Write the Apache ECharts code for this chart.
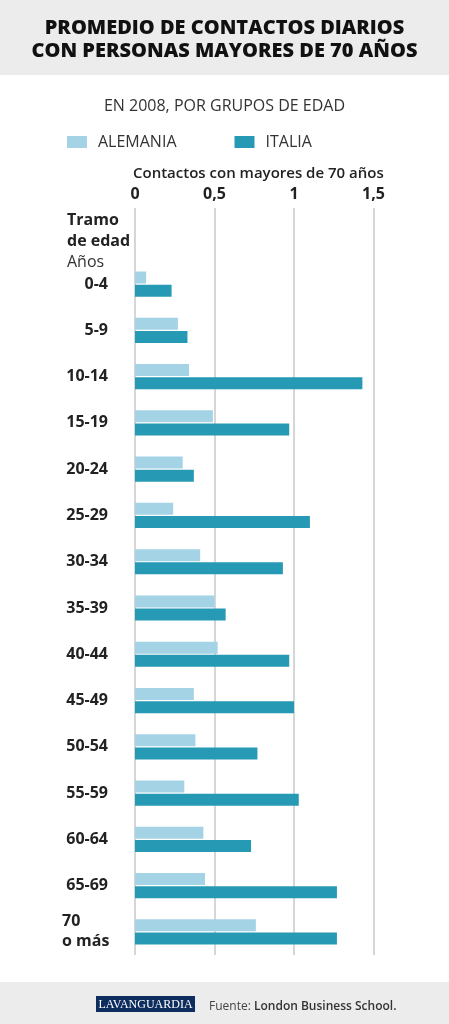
<!DOCTYPE html>
<html>
<head>
<meta charset="utf-8">
<script src="https://cdn.jsdelivr.net/npm/echarts@6/dist/echarts.min.js"></script>
<style>
html, body { margin: 0; padding: 0; background: #fff; }
#chart { width: 449px; height: 1024px; }
</style>
</head>
<body>
<div id="chart"></div>
<script>
// datos
var tramos = ["0-4", "5-9", "10-14", "15-19", "20-24", "25-29", "30-34", "35-39",
  "40-44", "45-49", "50-54", "55-59", "60-64", "65-69", "70\no más"];
var alemania = [0.07, 0.27, 0.34, 0.49, 0.30, 0.24, 0.41, 0.50, 0.52, 0.37, 0.38, 0.31, 0.43, 0.44, 0.76];
var italia = [0.23, 0.33, 1.43, 0.97, 0.37, 1.10, 0.93, 0.57, 0.97, 1.00, 0.77, 1.03, 0.73, 1.27, 1.27];
var ticks = [0, 0.5, 1, 1.5];

var chart = echarts.init(document.getElementById("chart"));
var font = "Open Sans";

var splitLine = { show: true, lineStyle: { color: "#c9c9c9", width: 1.5 } };

var option = {
  animation: false,
  graphic: [
    { type: "rect", shape: { x: 0, y: 0, width: 449, height: 75 }, style: { fill: "#ececec" }, z: -10 },
    { type: "rect", shape: { x: 0, y: 982, width: 449, height: 42 }, style: { fill: "#ececec" }, z: -10 },
    { type: "rect", shape: { x: 96, y: 996, width: 99, height: 16 }, style: { fill: "#0e2d5f" } },
    {
      type: "text", x: 145.5, y: 1004.5,
      style: { text: "LAVANGUARDIA", fill: "#fff", font: "12px 'Liberation Serif'", align: "center", verticalAlign: "middle" }
    }
  ],
  title: [
    {
      text: "PROMEDIO DE CONTACTOS DIARIOS\nCON PERSONAS MAYORES DE 70 AÑOS",
      left: "center", top: 12,
      textStyle: { fontFamily: font, fontWeight: 800, fontSize: 20, lineHeight: 23, color: "#111" }
    },
    {
      text: "EN 2008, POR GRUPOS DE EDAD",
      left: "center", top: 93,
      textStyle: { fontFamily: font, fontWeight: "normal", fontSize: 16, color: "#333" }
    },
    {
      text: "Contactos con mayores de 70 años",
      left: 128, top: 161,
      textStyle: { fontFamily: font, fontWeight: 600, fontSize: 15, color: "#222" }
    },
    {
      text: "{b|Tramo}\n{b|de edad}\n{r|Años}",
      left: 62, top: 205,
      textStyle: {
        rich: {
          b: { fontFamily: font, fontWeight: "bold", fontSize: 16, lineHeight: 21, color: "#222" },
          r: { fontFamily: font, fontWeight: "normal", fontSize: 16, lineHeight: 21, color: "#333" }
        }
      }
    },
    {
      text: "{r|Fuente: }{b|London Business School.}",
      left: 204, top: 996,
      textStyle: {
        rich: {
          r: { fontFamily: font, fontSize: 12, fontWeight: "normal", color: "#444" },
          b: { fontFamily: font, fontSize: 12, fontWeight: 600, color: "#333" }
        }
      }
    }
  ],
  legend: {
    left: 62, top: 129,
    itemWidth: 20, itemHeight: 12, itemGap: 58,
    icon: "rect",
    data: ["ALEMANIA", "ITALIA"],
    textStyle: { fontFamily: font, fontSize: 16, color: "#333", padding: [0, 0, 0, 6] }
  },
  grid: [
    { left: 135, width: 238.5, top: 208, height: 53 },
    { left: 135, width: 238.5, top: 261, height: 694 }
  ],
  xAxis: [
    {
      gridIndex: 0, type: "value", position: "top",
      min: ticks[0], max: ticks[ticks.length - 1], interval: ticks[1] - ticks[0],
      axisLine: { show: false }, axisTick: { show: false },
      axisLabel: {
        margin: 6, fontFamily: font, fontWeight: "bold", fontSize: 16, color: "#222",
        formatter: function (v) { return String(v).replace(".", ","); }
      },
      splitLine: splitLine
    },
    {
      gridIndex: 1, type: "value",
      min: ticks[0], max: ticks[ticks.length - 1], interval: ticks[1] - ticks[0],
      axisLine: { show: false }, axisTick: { show: false },
      axisLabel: { show: false },
      splitLine: splitLine
    }
  ],
  yAxis: [
    { gridIndex: 0, type: "category", data: [""], show: false },
    {
      gridIndex: 1, type: "category", data: tramos, inverse: true,
      axisLine: { show: false }, axisTick: { show: false },
      axisLabel: {
        margin: 27, fontFamily: font, fontWeight: "bold", fontSize: 16, color: "#222",
        formatter: function (v) {
          if (v.indexOf("\n") < 0) return v;
          return v.split("\n").map(function (s) { return "{l|" + s + "}"; }).join("\n");
        },
        rich: {
          l: { width: 46, align: "left", fontFamily: font, fontWeight: "bold", fontSize: 16, lineHeight: 20, color: "#222" }
        }
      }
    }
  ],
  series: [
    {
      name: "ALEMANIA", type: "bar", xAxisIndex: 1, yAxisIndex: 1,
      data: alemania, barWidth: 12, barGap: "10%",
      itemStyle: { color: "#a3d3e5" }
    },
    {
      name: "ITALIA", type: "bar", xAxisIndex: 1, yAxisIndex: 1,
      data: italia, barWidth: 12, barGap: "10%",
      itemStyle: { color: "#2699b4" }
    }
  ]
};
chart.setOption(option);
</script>
</body>
</html>
